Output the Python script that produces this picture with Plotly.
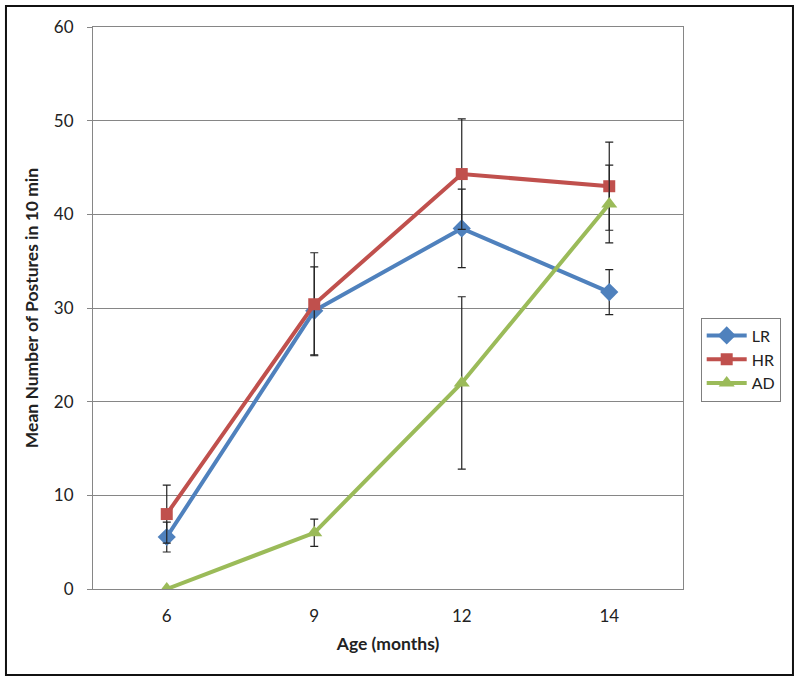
import plotly.graph_objects as go

ages = ["6", "9", "12", "14"]
lr_mean = [5.55, 29.7, 38.5, 31.7]
lr_err = [1.6, 4.7, 4.2, 2.4]
hr_mean = [8.0, 30.4, 44.3, 43.0]
hr_err = [3.1, 5.5, 5.9, 4.7]
ad_mean = [0.0, 6.0, 22.0, 41.1]
ad_err = [0.0, 1.45, 9.2, 4.15]

FONT = "Lato"

fig = go.Figure()

def add(name, y, err, color, symbol, size):
    fig.add_trace(go.Scatter(
        x=ages, y=y, name=name, mode="lines+markers",
        line=dict(color=color, width=4),
        marker=dict(symbol=symbol, size=size, color=color),
        error_y=dict(type="data", array=err, visible=True, color="#222222",
                     thickness=1.2, width=4),
    ))

add("LR", lr_mean, lr_err, "#4F81BD", "diamond", 14)
add("HR", hr_mean, hr_err, "#C0504D", "square", 12)
add("AD", ad_mean, ad_err, "#9BBB59", "triangle-up", 14)

fig.update_layout(
    width=800, height=682,
    margin=dict(l=93, r=117, t=27, b=93),
    paper_bgcolor="white", plot_bgcolor="white",
    font=dict(family=FONT, size=17, color="#222222"),
    showlegend=True,
    legend=dict(x=1.03, y=0.483, xanchor="left", yanchor="top",
                bordercolor="#7F7F7F", borderwidth=1,
                font=dict(family=FONT, size=16, color="#222222"),
                itemwidth=40, tracegroupgap=0),
    xaxis=dict(
        type="category", range=[-0.5, 3.5],
        showline=True, linecolor="#868686", linewidth=1, mirror=True,
        showgrid=False, ticks="", ticklabelstandoff=12,
        tickfont=dict(size=17),
        title=dict(text="<b>Age (months)</b>", font=dict(size=17.5), standoff=12),
    ),
    yaxis=dict(
        range=[0, 60], dtick=10,
        showline=True, linecolor="#868686", linewidth=1, mirror=True,
        showgrid=True, gridcolor="#868686", gridwidth=1,
        zeroline=False,
        ticks="outside", ticklen=5, tickcolor="#868686",
        ticklabelstandoff=10,
        tickfont=dict(size=17),
        title=dict(text="<b>Mean Number of Postures in 10 min</b>", font=dict(size=17.5), standoff=10),
    ),
    shapes=[dict(type="rect", xref="paper", yref="paper",
                 x0=-0.1475, x1=1.1864, y0=-0.153, y1=1.0374,
                 line=dict(color="#111111", width=2), layer="below")],
)

fig.write_html("out.html", config={"displayModeBar": False},
               post_script="document.body.style.margin='0';document.body.style.overflow='hidden';")
